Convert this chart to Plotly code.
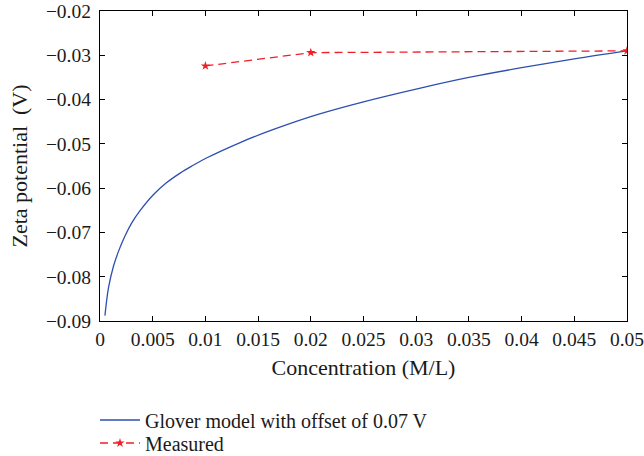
import plotly.graph_objects as go

# Glover model curve (with 0.07 V offset), sampled along concentration
model_conc = [0.00047, 0.0008, 0.00127, 0.0018, 0.00237, 0.003, 0.0038, 0.00506, 0.0063,
              0.0076, 0.0088, 0.0101, 0.0133, 0.0164, 0.0206, 0.025, 0.0304, 0.035, 0.04,
              0.045, 0.05]
model_zeta = [-0.0888, -0.0826, -0.0777, -0.0740, -0.0708, -0.0679, -0.0651, -0.0615, -0.0588,
              -0.0566, -0.0549, -0.0532, -0.0497, -0.0468, -0.0434, -0.0405, -0.0374, -0.0350,
              -0.0328, -0.0308, -0.0290]

# Measured zeta potentials
meas_conc = [0.01, 0.02, 0.05]
meas_zeta = [-0.0324, -0.0294, -0.0290]

x_ticks = [0, 0.005, 0.01, 0.015, 0.02, 0.025, 0.03, 0.035, 0.04, 0.045, 0.05]
x_tick_text = ["0", "0.005", "0.01", "0.015", "0.02", "0.025", "0.03", "0.035", "0.04", "0.045", "0.05"]
y_ticks = [-0.09, -0.08, -0.07, -0.06, -0.05, -0.04, -0.03, -0.02]
y_tick_text = ["\u22120.09", "\u22120.08", "\u22120.07", "\u22120.06", "\u22120.05",
               "\u22120.04", "\u22120.03", "\u22120.02"]

FONT = "Liberation Serif"
TICK_FS = 19.5
TITLE_FS = 22
LEG_FS = 20
TXT = "#1a1a1a"

fig = go.Figure()
fig.add_trace(go.Scatter(
    x=model_conc, y=model_zeta, mode="lines",
    line=dict(color="#2d4fb2", width=1.3, shape="spline"),
    name="Glover model with offset of 0.07 V",
    legend="legend",
))
fig.add_trace(go.Scatter(
    x=meas_conc, y=meas_zeta, mode="lines+markers",
    line=dict(color="#f01e28", width=1.3, dash="8px,5px"),
    marker=dict(symbol="star", size=7, color="#f01e28"),
    name="Measured",
    legend="legend2",
))

axis_common = dict(
    showgrid=False, zeroline=False, showline=True, linecolor="black", linewidth=1.2,
    mirror="ticks", ticks="inside", ticklen=5, tickcolor="black", tickwidth=1,
    ticklabeloverflow="allow",
    tickfont=dict(family=FONT, size=TICK_FS, color=TXT),
)

legend_common = dict(
    x=-0.0095, xanchor="left", yanchor="middle",
    font=dict(family=FONT, size=LEG_FS, color=TXT),
    bgcolor="rgba(0,0,0,0)", itemwidth=40,
)

fig.update_layout(
    width=644, height=456,
    margin=dict(l=100, r=17, t=11, b=135, autoexpand=False),
    paper_bgcolor="white", plot_bgcolor="white",
    font=dict(family=FONT, size=TICK_FS, color=TXT),
    xaxis=dict(range=[0, 0.05], tickvals=x_ticks, ticktext=x_tick_text,
               title=dict(text="Concentration (M/L)", font=dict(family=FONT, size=TITLE_FS),
                          standoff=11),
               **axis_common),
    yaxis=dict(range=[-0.09, -0.02], tickvals=y_ticks, ticktext=y_tick_text,
               ticklabelstandoff=4,
               title=dict(text="Zeta potential  (V)", font=dict(family=FONT, size=TITLE_FS),
                          standoff=12),
               **axis_common),
    showlegend=True,
    legend=dict(y=-0.3194, **legend_common),
    legend2=dict(y=-0.3935, **legend_common),
)

fig.write_html("out.html")
